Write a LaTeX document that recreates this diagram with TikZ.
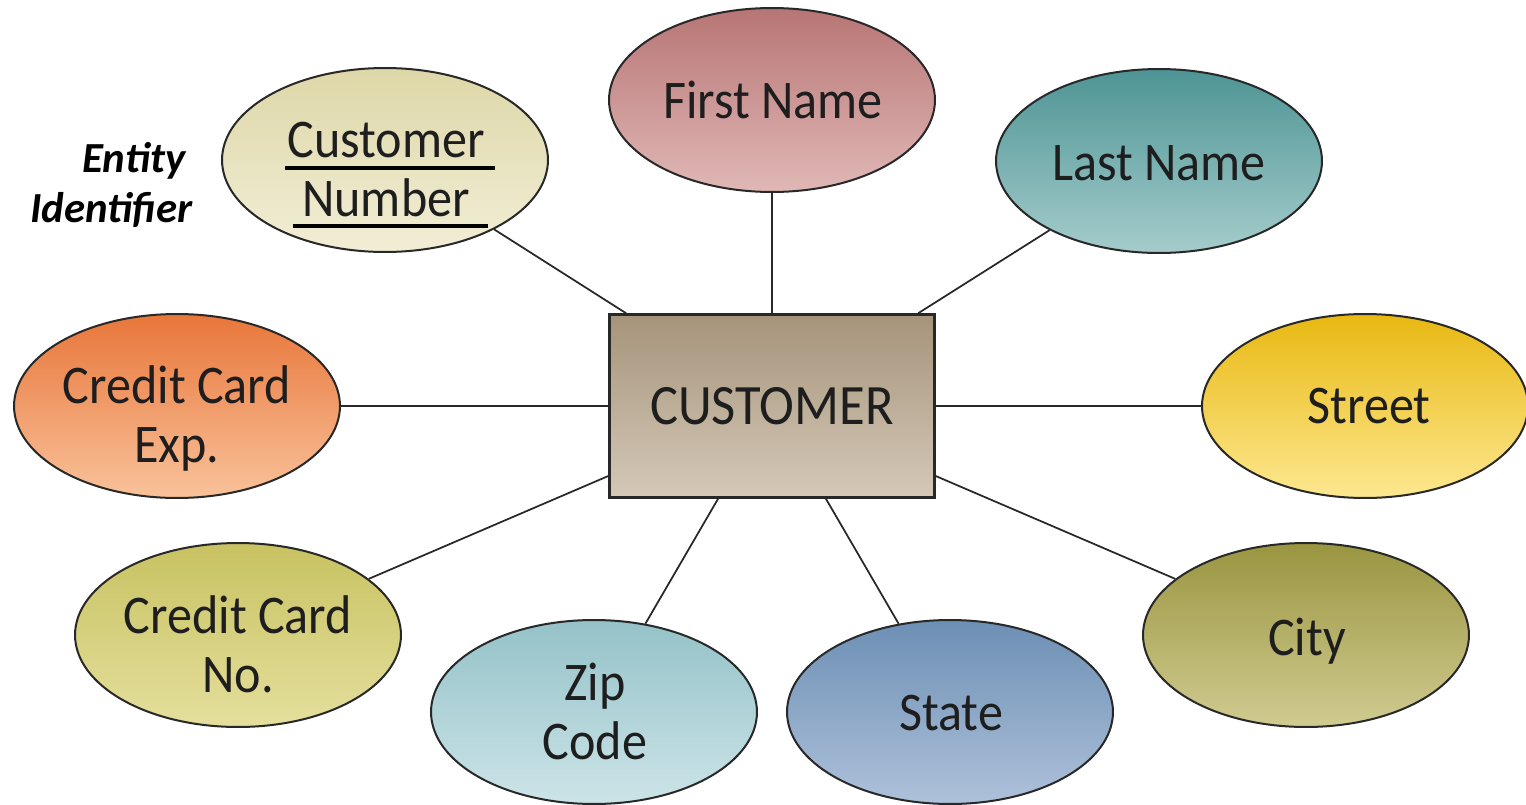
\documentclass[tikz,border=0pt]{standalone}
\usepackage{fontspec}
\setmainfont{Carlito}[FakeStretch=0.92]
\newfontfamily\notefont{Carlito}
\usetikzlibrary{shapes.geometric}

% attribute fills (top / bottom of the gradient)
\definecolor{cnTop}{RGB}{221,215,168}\definecolor{cnBot}{RGB}{242,238,214}
\definecolor{fnTop}{RGB}{183,117,117}\definecolor{fnBot}{RGB}{224,184,182}
\definecolor{lnTop}{RGB}{78,148,148}\definecolor{lnBot}{RGB}{165,204,204}
\definecolor{ceTop}{RGB}{232,118,58}\definecolor{ceBot}{RGB}{249,194,154}
\definecolor{stTop}{RGB}{232,184,18}\definecolor{stBot}{RGB}{253,232,144}
\definecolor{cnoTop}{RGB}{200,194,98}\definecolor{cnoBot}{RGB}{228,223,156}
\definecolor{zpTop}{RGB}{148,194,200}\definecolor{zpBot}{RGB}{204,228,232}
\definecolor{sTop}{RGB}{108,143,180}\definecolor{sBot}{RGB}{174,193,218}
\definecolor{ctTop}{RGB}{154,149,64}\definecolor{ctBot}{RGB}{208,203,144}
\definecolor{enTop}{RGB}{166,148,122}\definecolor{enBot}{RGB}{212,200,184}
\definecolor{edge}{RGB}{40,40,40}
\definecolor{ink}{RGB}{30,30,30}

% struts: a label's box runs 1cm above its first baseline and 1cm below
% its last one, so the node centre sits midway between those baselines
\newcommand\topstrut{\rule{0pt}{1cm}}
\newcommand\botstrut{\rule[-1cm]{0pt}{1cm}}

\tikzset{
  attr/.style={ellipse, draw=edge, line width=0.04cm, inner sep=0pt,
    minimum width=6.52cm, minimum height=3.68cm},
  attrtext/.style={inner sep=0pt, align=center, text=ink,
    font=\fontsize{31}{34.1}\selectfont},
  entity/.style={rectangle, draw=edge, line width=0.05cm, inner sep=0pt,
    minimum width=6.5cm, minimum height=3.66cm, text=ink,
    top color=enTop, bottom color=enBot,
    font=\fontsize{32.5}{36}\selectfont},
  link/.style={draw=edge, line width=0.035cm},
  keyline/.style={draw=black, line width=0.08cm}
}

\begin{document}
\begin{tikzpicture}[x=0.02cm, y=-0.02cm]
\useasboundingbox (0,0) rectangle (1526,805);

% the entity
\node[entity] (cust) at (772,406) {CUSTOMER};

% its attributes
\node[attr, top color=cnTop, bottom color=cnBot] (cnum) at (385,160) {};
\node[attr, top color=fnTop, bottom color=fnBot] (fname) at (772,100) {};
\node[attr, top color=lnTop, bottom color=lnBot] (lname) at (1159,161) {};
\node[attr, top color=ceTop, bottom color=ceBot] (ccexp) at (177,406) {};
\node[attr, top color=stTop, bottom color=stBot] (street) at (1365,406) {};
\node[attr, top color=cnoTop, bottom color=cnoBot] (ccno) at (238,635) {};
\node[attr, top color=zpTop, bottom color=zpBot] (zip) at (594,712) {};
\node[attr, top color=sTop, bottom color=sBot] (state) at (950,712) {};
\node[attr, top color=ctTop, bottom color=ctBot] (city) at (1306,635) {};

% attribute names
\node[attrtext] (cnum-t) at (386,187) {\topstrut Customer\\Number\botstrut};
\node[attrtext] (fname-t) at (773,118) {\topstrut First Name\botstrut};
\node[attrtext] (lname-t) at (1159,180) {\topstrut Last Name\botstrut};
\node[attrtext] (ccexp-t) at (177,433) {\topstrut Credit Card\\Exp.\botstrut};
\node[attrtext] (street-t) at (1369,423) {\topstrut Street\botstrut};
\node[attrtext] (ccno-t) at (238,663) {\topstrut Credit Card\\No.\botstrut};
\node[attrtext] (zip-t) at (595,730) {\topstrut Zip\\Code\botstrut};
\node[attrtext] (state-t) at (951,730) {\topstrut State\botstrut};
\node[attrtext] (city-t) at (1307,655) {\topstrut City\botstrut};

% connectors
\foreach \a in {cnum,fname,lname,ccexp,street,ccno,zip,state,city}
  \path[link] (\a) -- (cust);

% key attribute underlines
\draw[keyline] (285,168) -- (495,168);
\draw[keyline] (293,226) -- (488,226);

% note
\node[anchor=east, align=right, inner sep=0pt, text=black,
  font=\notefont\bfseries\itshape\fontsize{24.4}{28.5}\selectfont] (note) at (193,185)
  {Entity\hspace*{0.15cm}\\Identifier};
\end{tikzpicture}
\end{document}
